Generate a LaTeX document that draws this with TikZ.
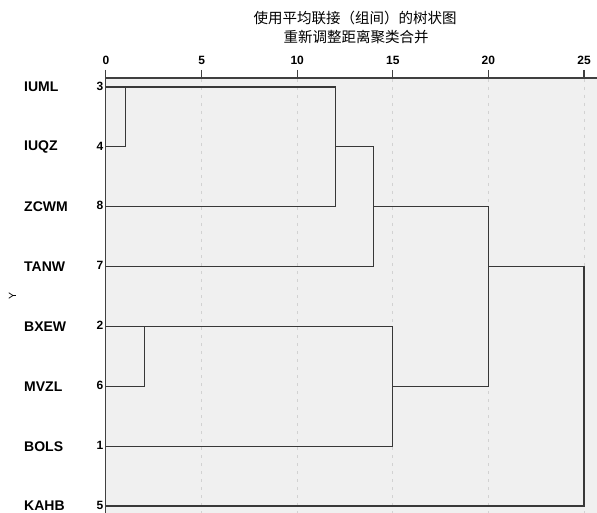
\documentclass[tikz,border=0pt]{standalone}
\usepackage{fontspec}
\setmainfont{Liberation Sans}
\newfontfamily\cjk{Noto Sans CJK SC}
\definecolor{plotbg}{HTML}{F0F0F0}
\definecolor{gridc}{HTML}{D2D2D2}
\definecolor{dendc}{HTML}{383838}
\definecolor{axisc}{HTML}{404040}
\begin{document}
\begin{tikzpicture}[x=1pt,y=-1pt,
  leaflabel/.style={anchor=west,font=\fontsize{14}{14}\selectfont\bfseries,inner sep=0pt},
  leafnum/.style={anchor=east,font=\fontsize{12}{12}\selectfont\bfseries,inner sep=0pt},
  ticklabel/.style={anchor=center,font=\fontsize{12}{12}\selectfont\bfseries,inner sep=0pt},
  titletext/.style={anchor=center,font=\cjk\fontsize{14.5}{14.5}\selectfont,inner sep=0pt},
  dend/.style={draw=dendc,line width=1.1pt},
  gridline/.style={draw=gridc,line width=0.9pt,dash pattern=on 3pt off 5pt},
  axisline/.style={draw=axisc,line width=1.2pt}]
\useasboundingbox (0,0) rectangle (597,513);
\fill[white] (0,0) rectangle (597,513);
% plot background
\fill[plotbg] (106,78) rectangle (597,513);
% grid lines
\foreach \k in {1,...,5}{
  \draw[gridline] ({106+19.12*5*\k},79) -- ({106+19.12*5*\k},513);
}
% axes
\draw[axisline] (105.5,78) -- (597,78);
\draw[axisline] (105.5,70) -- (105.5,513);
\foreach \k in {1,...,5}{
  \draw[axisline] ({106+19.12*5*\k},70) -- ({106+19.12*5*\k},78);
}
\foreach \k/\nm in {0/t0,5/t5,10/t10,15/t15,20/t20,25/t25}{
  \node[ticklabel] (\nm) at ({106+19.12*\k},60.5) {\k};
}
% titles
\node[titletext] (title1) at (355,18) {使用平均联接（组间）的树状图};
\node[titletext] (title2) at (356,37) {重新调整距离聚类合并};
% Y label
\node[rotate=90,font=\fontsize{10.5}{10.5}\selectfont,inner sep=0pt] (ylab) at (12.5,296) {Y};
% leaf rows
\def\rA{87}\def\rB{146.9}\def\rC{206.7}\def\rD{266.6}
\def\rE{326.4}\def\rF{386.3}\def\rG{446.2}\def\rH{506}
\foreach \nm/\lab/\num/\ry in {IUML/IUML/3/\rA, IUQZ/IUQZ/4/\rB, ZCWM/ZCWM/8/\rC, TANW/TANW/7/\rD,
  BXEW/BXEW/2/\rE, MVZL/MVZL/6/\rF, BOLS/BOLS/1/\rG, KAHB/KAHB/5/\rH}{
  \node[leaflabel] (lab\nm) at (24,\ry) {\lab};
  \node[leafnum] (num\nm) at (103.5,\ry-1) {\num};
  \coordinate (leaf\nm) at (106,\ry);
}
% joints
\coordinate (jA) at (125.1,\rA);  \coordinate (jAb) at (125.1,\rB);
\coordinate (jB) at (335.4,\rA);  \coordinate (jBb) at (335.4,\rC); \coordinate (jBm) at (335.4,\rB);
\coordinate (jC) at (373.7,\rB);  \coordinate (jCb) at (373.7,\rD); \coordinate (jCm) at (373.7,\rC);
\coordinate (jD) at (144.2,\rE);  \coordinate (jDb) at (144.2,\rF);
\coordinate (jE) at (392.8,\rE);  \coordinate (jEb) at (392.8,\rG); \coordinate (jEm) at (392.8,\rF);
\coordinate (jF) at (488.4,\rC);  \coordinate (jFb) at (488.4,\rF); \coordinate (jFm) at (488.4,\rD);
\coordinate (jG) at (584,\rD);    \coordinate (jGb) at (584,\rH);
% dendrogram
\draw[dend] (leafIUML) -- (jB) -- (jBb) -- (leafZCWM);
\draw[dend] (leafIUQZ) -- (jAb) -- (jA);
\draw[dend] (jBm) -- (jC) -- (jCb) -- (leafTANW);
\draw[dend] (jCm) -- (jF) -- (jFb) -- (jEm);
\draw[dend] (leafBXEW) -- (jE) -- (jEb) -- (leafBOLS);
\draw[dend] (leafMVZL) -- (jDb) -- (jD);
\draw[dend] (jFm) -- (jG) -- (jGb) -- (leafKAHB);
\end{tikzpicture}
\end{document}
